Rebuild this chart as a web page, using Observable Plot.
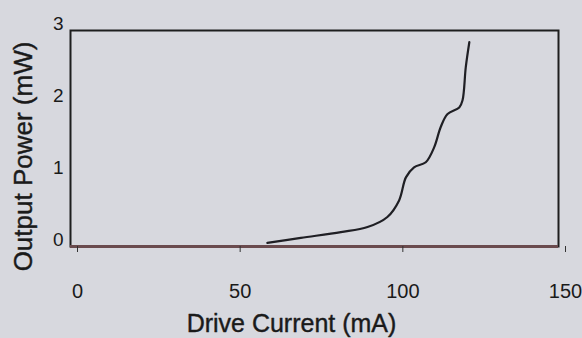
<!DOCTYPE html>
<html>
<head>
<meta charset="utf-8">
<script src="https://cdn.jsdelivr.net/npm/d3@7"></script>
<script src="https://cdn.jsdelivr.net/npm/@observablehq/plot@0.6"></script>
<style>
  html, body { margin: 0; padding: 0; background: #d7d8de; }
  #chart { width: 582px; height: 338px; }
</style>
</head>
<body>
<div id="chart"></div>
<script>
const current = [60.5, 70.8, 83.1, 91.3, 97.4, 101.0, 103.1, 105.6, 109.2, 111.8, 113.8, 115.9, 119.5, 120.5, 121.5, 122.6];
const power   = [0.05, 0.12, 0.20, 0.27, 0.41, 0.64, 0.96, 1.10, 1.17, 1.38, 1.66, 1.84, 1.93, 2.03, 2.49, 2.84];
const xTicks = [0, 50, 100, 150];
const yTicks = [0, 1, 2, 3];
const xTitle = "Drive Current (mA)";
const yTitle = "Output Power (mW)";

const data = current.map((c, i) => ({current: c, power: power[i]}));

const chart = Plot.plot({
  width: 582,
  height: 338,
  marginLeft: 70,
  marginRight: 24,
  marginTop: 30,
  marginBottom: 92,
  style: {background: "transparent", fontFamily: "'Liberation Sans', Arial, sans-serif", color: "#1a1a1a"},
  x: {domain: [0, 150]},
  y: {domain: [0, 3]},
  marks: [
    Plot.frame({stroke: "#1e1e1e", strokeWidth: 2}),
    Plot.ruleY([0], {stroke: "#6a4b4e", strokeWidth: 3}),
    Plot.axisX(xTicks, {tickSize: 6, tickPadding: 31, fontSize: 20, dx: 7, label: null, stroke: "#333", fill: "#1a1a1a"}),
    Plot.axisY(yTicks, {tickSize: 0, tickPadding: 7, fontSize: 19, dy: -7, tickFormat: "d", label: null, fill: "#1a1a1a"}),
    Plot.line(data, {x: "current", y: "power", curve: "catmull-rom", stroke: "#1f1f24", strokeWidth: 2.2}),
    Plot.text([xTitle], {frameAnchor: "bottom", lineAnchor: "middle", dy: 77, dx: -23, fontSize: 25, fill: "#1a1a1a", stroke: "#1a1a1a", strokeWidth: 0.4}),
    Plot.text([yTitle], {frameAnchor: "left", textAnchor: "middle", lineAnchor: "middle", rotate: -90, dx: -47, dy: 18, fontSize: 26, fill: "#1a1a1a", stroke: "#1a1a1a", strokeWidth: 0.4})
  ]
});
document.getElementById("chart").appendChild(chart);
</script>
</body>
</html>
